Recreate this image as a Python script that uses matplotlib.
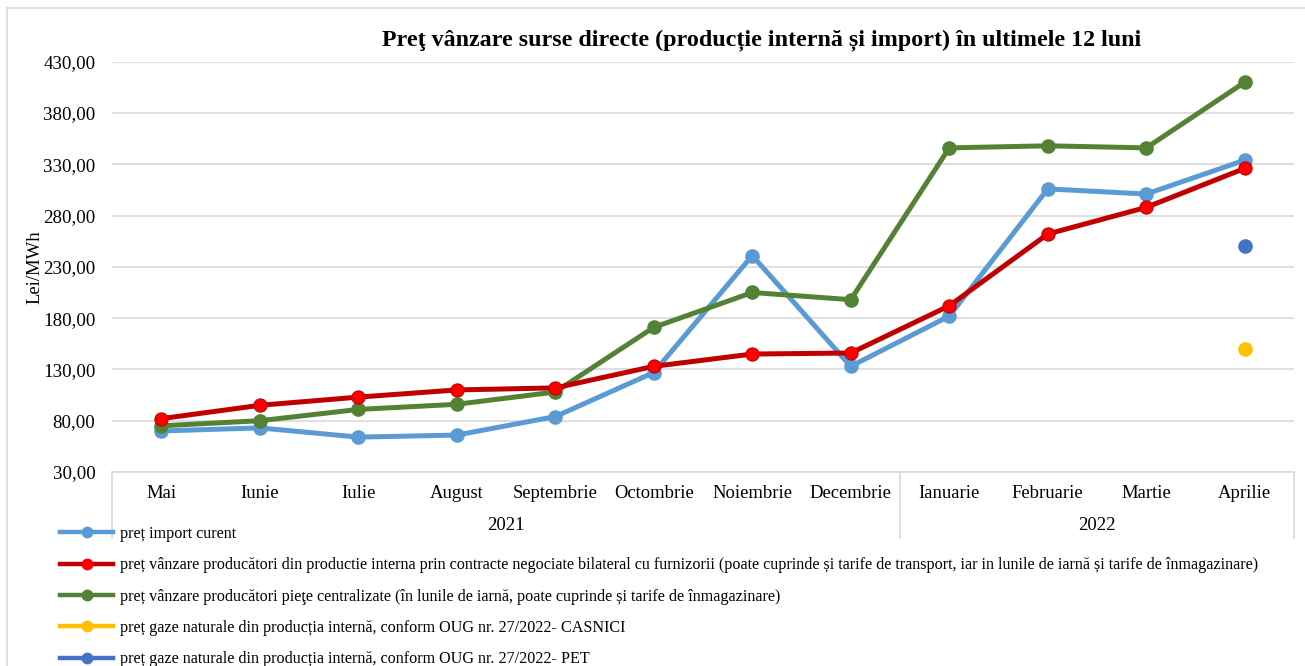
import matplotlib
matplotlib.use("Agg")
import matplotlib.pyplot as plt
import matplotlib.transforms as mtransforms
from matplotlib.lines import Line2D
from matplotlib.ticker import FuncFormatter
import numpy as np

plt.rcParams['font.family'] = ['Liberation Serif', 'DejaVu Serif']

# --- Date ---
luni = ["Mai", "Iunie", "Iulie", "August", "Septembrie", "Octombrie", "Noiembrie",
        "Decembrie", "Ianuarie", "Februarie", "Martie", "Aprilie"]
ani = ["2021", "2022"]
luni_pe_an = [8, 4]

import_curent = [70, 73, 64, 66, 84, 127, 241, 133, 182, 306, 301, 334]
bilateral = [82, 95, 103, 110, 112, 133, 145, 146, 192, 262, 288, 326]
centralizate = [75, 80, 91, 96, 108, 171, 205, 198, 346, 348, 346, 410]
casnici = [np.nan] * 11 + [150]
pet = [np.nan] * 11 + [250]

etichete = [
    "preț import curent",
    "preț vânzare producători din productie interna prin contracte negociate bilateral cu furnizorii "
    "(poate cuprinde și tarife de transport, iar in lunile de iarnă și tarife de înmagazinare)",
    "preț vânzare producători pieţe centralizate (în lunile de iarnă, poate cuprinde și tarife de înmagazinare)",
    "preț gaze naturale din producția internă, conform OUG nr. 27/2022- CASNICI",
    "preț gaze naturale din producția internă, conform OUG nr. 27/2022- PET",
]

# --- Culori ---
c_import = "#5B9BD5"
c_bil = "#C00000"
c_bil_m = "#FF0000"
c_cent = "#548235"
c_cas = "#FFC000"
c_pet = "#4472C4"
c_grid = "#D9D9D9"

W, H = 1305, 666
fig = plt.figure(figsize=(W / 100, H / 100), dpi=100)
ax = fig.add_axes([112 / W, 1 - 472 / H, (1294 - 112) / W, (472 - 61.7) / H])

x = np.arange(len(luni))
ax.plot(x, import_curent, color=c_import, lw=3.6, marker="o", ms=9.5,
        mfc=c_import, mec=c_import, zorder=3)
ax.plot(x, centralizate, color=c_cent, lw=3.6, marker="o", ms=9.5,
        mfc=c_cent, mec=c_cent, zorder=4)
ax.plot(x, bilateral, color=c_bil, lw=3.6, marker="o", ms=9.5,
        mfc=c_bil_m, mec=c_bil, mew=0.8, zorder=5)
ax.plot(x, casnici, ls="none", marker="o", ms=9.5, color=c_cas, zorder=5)
ax.plot(x, pet, ls="none", marker="o", ms=9.5, color=c_pet, zorder=5)

ax.set_xlim(-0.5, len(luni) - 0.5)
ax.set_ylim(30, 430)
ax.set_yticks(np.arange(30, 431, 50))
ax.yaxis.set_major_formatter(FuncFormatter(lambda v, p: f"{v:.2f}".replace(".", ",")))
ax.grid(axis="y", color=c_grid, lw=1.2)
ax.set_axisbelow(True)
for s in ["left", "right", "top"]:
    ax.spines[s].set_visible(False)
ax.spines["bottom"].set_color(c_grid)
ax.spines["bottom"].set_linewidth(1.2)
ax.tick_params(axis="y", length=0, pad=12, labelsize=13.6)
ax.set_xticks(x)
ax.set_xticklabels(luni)
ax.tick_params(axis="x", length=0, pad=9, labelsize=13.4)
ax.set_ylabel("Lei/MWh", fontsize=13.4)
ax.yaxis.set_label_coords(-0.058, 0.5)

# --- Axa categoriilor pe doua niveluri ---
trans = mtransforms.blended_transform_factory(ax.transData, ax.transAxes)
jos = -66 / (472 - 61.7)
start = -0.5
granite = [start]
for an, n in zip(ani, luni_pe_an):
    ax.text(start + n / 2, -53 / (472 - 61.7), an, transform=trans,
            ha="center", va="center", fontsize=13.4)
    start += n
    granite.append(start)
for g in granite:
    ax.plot([g, g], [0, jos], transform=trans, color=c_grid, lw=1.2, clip_on=False)

fig.suptitle("Preţ vânzare surse directe (producție internă și import) în ultimele 12 luni",
             x=762 / W, y=1 - 40 / H, va="center", fontsize=17.3, fontweight="bold")

# --- Legenda ---
culori = [(c_import, c_import), (c_bil, c_bil_m), (c_cent, c_cent), (c_cas, c_cas), (c_pet, c_pet)]
handles = [Line2D([], [], color=c, lw=3.2, marker="o", ms=7.5, mfc=m, mec=m) for c, m in culori]
fig.legend(handles, etichete, loc="upper left", bbox_to_anchor=(60 / W, 1 - 526 / H),
           frameon=False, fontsize=11.6, handlelength=3.3, handletextpad=0.43,
           labelspacing=0.95, borderpad=0, borderaxespad=0, numpoints=1)

# --- Chenar ---
fig.add_artist(Line2D([7 / W, 7 / W], [0, 1 - 8 / H], color=c_grid, lw=1.2))
fig.add_artist(Line2D([7 / W, 1], [1 - 8 / H, 1 - 8 / H], color=c_grid, lw=1.2))

fig.savefig("out.png", dpi=100)
